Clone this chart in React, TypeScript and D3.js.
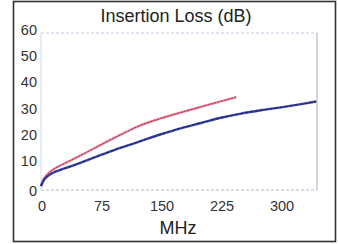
import React, { useRef, useEffect } from 'react';
import * as d3 from 'd3';

// MHz / dB
const blueFreq = [0, 3, 8, 15, 25, 37, 50, 75, 100, 121, 150, 171, 200, 225, 250, 275, 300, 325, 344];
const blueLoss = [1.5, 3.5, 5.2, 6.6, 7.8, 9, 10.5, 13.4, 16.2, 18.3, 21.3, 23.3, 25.6, 27.6, 29.2, 30.5, 31.6, 32.8, 33.8];

const redFreq = [0, 3, 8, 15, 25, 37, 50, 75, 100, 121, 150, 171, 200, 225, 244];
const redLoss = [1.5, 4, 6, 7.8, 9.5, 11.3, 13.3, 17.3, 21.2, 24.3, 27.4, 29.3, 31.8, 33.9, 35.5];

const xTicks = [0, 75, 150, 225, 300];
const yTicks = [0, 10, 20, 30, 40, 50, 60];

const W = 338;
const H = 244;

function InsertionLoss() {
  const ref = useRef<SVGSVGElement>(null);

  useEffect(() => {
    const svg = d3.select(ref.current);
    svg.selectAll('*').remove();

    const x = d3.scaleLinear().domain([0, 345]).range([41, 317]);
    const y = d3.scaleLinear().domain([0, 60]).range([190, 33]);
    const font = 'Liberation Sans, Arial, sans-serif';

    svg.append('rect').attr('width', W).attr('height', H).attr('fill', '#fff');

    // outer frame
    svg.append('rect')
      .attr('x', 13.5).attr('y', 1.5)
      .attr('width', 322).attr('height', 240)
      .attr('fill', 'none')
      .attr('stroke', '#333')
      .attr('stroke-width', 1.6);

    // plot box
    svg.append('line')
      .attr('x1', x(0)).attr('x2', x(345))
      .attr('y1', y(60)).attr('y2', y(60))
      .attr('stroke', '#c9c9e2').attr('stroke-dasharray', '3,2');
    svg.append('line')
      .attr('x1', x(0)).attr('x2', x(345))
      .attr('y1', y(0)).attr('y2', y(0))
      .attr('stroke', '#b8b8cc').attr('stroke-dasharray', '3,2');
    svg.append('line')
      .attr('x1', x(0)).attr('x2', x(0))
      .attr('y1', y(0)).attr('y2', y(60))
      .attr('stroke', '#d8d8ea');
    svg.append('line')
      .attr('x1', x(345)).attr('x2', x(345))
      .attr('y1', y(0)).attr('y2', y(60))
      .attr('stroke', '#a8a8bc');

    // tick labels
    svg.selectAll('.ylab')
      .data(yTicks)
      .enter().append('text')
      .attr('class', 'ylab')
      .attr('x', 37)
      .attr('y', d => y(d) + (d === 0 ? 6 : 2))
      .attr('text-anchor', 'end')
      .attr('font-family', font)
      .attr('font-size', 14.5)
      .attr('fill', '#333')
      .text(d => d);

    svg.selectAll('.xlab')
      .data(xTicks)
      .enter().append('text')
      .attr('class', 'xlab')
      .attr('x', d => x(d) + 1)
      .attr('y', 211)
      .attr('text-anchor', 'middle')
      .attr('font-family', font)
      .attr('font-size', 14.5)
      .attr('fill', '#333')
      .text(d => d);

    svg.append('text')
      .attr('x', 176).attr('y', 22)
      .attr('text-anchor', 'middle')
      .attr('font-family', font)
      .attr('font-size', 18)
      .attr('fill', '#222')
      .text('Insertion Loss (dB)');

    svg.append('text')
      .attr('x', 178).attr('y', 234)
      .attr('text-anchor', 'middle')
      .attr('font-family', font)
      .attr('font-size', 18)
      .attr('fill', '#222')
      .text('MHz');

    const line = d3.line<[number, number]>()
      .x(d => x(d[0]))
      .y(d => y(d[1]))
      .curve(d3.curveMonotoneX);

    const red = redFreq.map((f, i) => [f, redLoss[i]] as [number, number]);
    const blue = blueFreq.map((f, i) => [f, blueLoss[i]] as [number, number]);

    svg.append('path')
      .attr('d', line(red))
      .attr('fill', 'none')
      .attr('stroke', '#e07a92')
      .attr('stroke-width', 2.2);
    svg.append('path')
      .attr('d', line(red))
      .attr('fill', 'none')
      .attr('stroke', '#c8304e')
      .attr('stroke-width', 1)
      .attr('stroke-dasharray', '2,1.5');

    svg.append('path')
      .attr('d', line(blue))
      .attr('fill', 'none')
      .attr('stroke', '#3a44a8')
      .attr('stroke-width', 2.4);
    svg.append('path')
      .attr('d', line(blue))
      .attr('fill', 'none')
      .attr('stroke', '#1c1f5a')
      .attr('stroke-width', 1)
      .attr('stroke-dasharray', '3,2');
  }, []);

  return <svg ref={ref} width={W} height={H} style={{ display: 'block' }} />;
}

export default function App() {
  return (
    <div style={{ position: 'fixed', left: 0, top: 0 }}>
      <InsertionLoss />
    </div>
  );
}
